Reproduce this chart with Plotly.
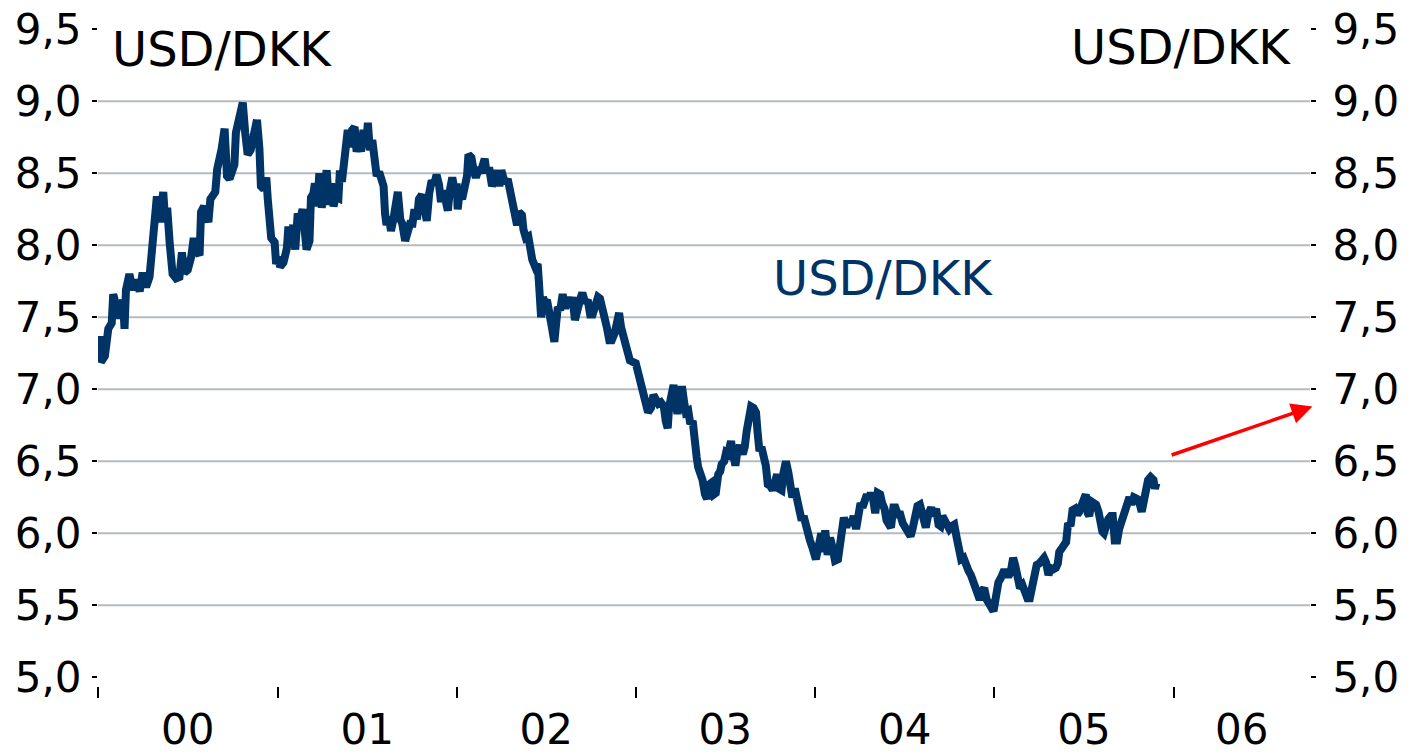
import pandas as pd
import plotly.graph_objects as go

# USD/DKK kurs (ca. ugentlige punkter)
DATES = [
    # 2000
    "2000-01-05", "2000-01-07", "2000-01-15", "2000-01-19", "2000-01-22", "2000-01-29",
    "2000-02-01", "2000-02-04", "2000-02-07", "2000-02-12", "2000-02-16", "2000-02-21",
    "2000-02-24", "2000-02-27", "2000-03-05", "2000-03-09", "2000-03-12", "2000-03-19",
    "2000-03-26", "2000-04-01", "2000-04-08", "2000-04-15", "2000-04-18", "2000-04-22",
    "2000-04-25", "2000-04-30", "2000-05-05", "2000-05-09", "2000-05-13", "2000-05-17",
    "2000-05-21", "2000-05-26", "2000-06-01", "2000-06-08", "2000-06-15", "2000-06-20",
    "2000-06-25", "2000-07-02", "2000-07-09", "2000-07-14", "2000-07-19", "2000-07-26",
    "2000-07-29", "2000-08-04", "2000-08-08", "2000-08-13", "2000-08-17", "2000-08-22",
    "2000-08-27", "2000-08-31", "2000-09-05", "2000-09-09", "2000-09-15", "2000-09-20",
    "2000-09-25", "2000-09-30", "2000-10-05", "2000-10-08", "2000-10-12", "2000-10-17",
    "2000-10-22", "2000-10-27", "2000-11-01", "2000-11-07", "2000-11-11", "2000-11-16",
    "2000-11-20", "2000-11-25", "2000-11-28", "2000-12-04", "2000-12-09", "2000-12-12",
    "2000-12-15", "2000-12-19", "2000-12-26", "2000-12-29",
    # 2001
    "2001-01-03", "2001-01-06", "2001-01-13", "2001-01-20", "2001-01-23", "2001-01-26",
    "2001-02-02", "2001-02-06", "2001-02-11", "2001-02-16", "2001-02-21", "2001-02-26",
    "2001-03-01", "2001-03-07", "2001-03-10", "2001-03-15", "2001-03-18", "2001-03-23",
    "2001-03-27", "2001-04-01", "2001-04-06", "2001-04-11", "2001-04-16", "2001-04-20",
    "2001-04-25", "2001-04-30", "2001-05-05", "2001-05-08", "2001-05-12", "2001-05-16",
    "2001-05-21", "2001-05-24", "2001-05-29", "2001-06-02", "2001-06-07", "2001-06-11",
    "2001-06-16", "2001-06-20", "2001-06-25", "2001-06-30", "2001-07-04", "2001-07-08",
    "2001-07-13", "2001-07-17", "2001-07-22", "2001-07-27", "2001-07-31", "2001-08-05",
    "2001-08-08", "2001-08-11", "2001-08-16", "2001-08-20", "2001-08-25", "2001-08-30",
    "2001-09-03", "2001-09-08", "2001-09-12", "2001-09-18", "2001-09-23", "2001-09-28",
    "2001-10-03", "2001-10-07", "2001-10-12", "2001-10-16", "2001-10-22", "2001-10-26",
    "2001-11-01", "2001-11-06", "2001-11-11", "2001-11-16", "2001-11-21", "2001-11-26",
    "2001-11-30", "2001-12-05", "2001-12-10", "2001-12-14", "2001-12-18", "2001-12-23",
    "2001-12-29",
    # 2002
    "2002-01-01", "2002-01-03", "2002-01-07", "2002-01-12", "2002-01-17", "2002-01-22",
    "2002-01-25", "2002-01-31", "2002-02-04", "2002-02-09", "2002-02-14", "2002-02-20",
    "2002-02-27", "2002-03-03", "2002-03-08", "2002-03-14", "2002-03-19", "2002-03-24",
    "2002-03-29", "2002-04-02", "2002-04-06", "2002-04-11", "2002-04-15", "2002-04-19",
    "2002-04-23", "2002-04-29", "2002-05-04", "2002-05-08", "2002-05-14", "2002-05-17",
    "2002-05-22", "2002-05-27", "2002-05-31", "2002-06-04", "2002-06-10", "2002-06-15",
    "2002-06-18", "2002-06-22", "2002-06-26", "2002-06-29", "2002-07-04", "2002-07-08",
    "2002-07-14", "2002-07-19", "2002-07-22", "2002-07-26", "2002-07-31", "2002-08-05",
    "2002-08-10", "2002-08-15", "2002-08-20", "2002-08-25", "2002-08-30", "2002-09-05",
    "2002-09-10", "2002-09-14", "2002-09-20", "2002-09-25", "2002-09-30", "2002-10-05",
    "2002-10-10", "2002-10-16", "2002-10-20", "2002-10-25", "2002-10-29", "2002-11-03",
    "2002-11-08", "2002-11-13", "2002-11-19", "2002-11-23", "2002-11-28", "2002-12-02",
    "2002-12-07", "2002-12-12", "2002-12-16", "2002-12-20",
    # 2003
    "2003-01-01", "2003-01-05", "2003-01-08", "2003-01-13", "2003-01-17", "2003-01-22",
    "2003-01-26", "2003-02-01", "2003-02-06", "2003-02-11", "2003-02-16", "2003-02-21",
    "2003-02-27", "2003-03-03", "2003-03-07", "2003-03-10", "2003-03-15", "2003-03-19",
    "2003-03-24", "2003-03-27", "2003-04-01", "2003-04-05", "2003-04-10", "2003-04-13",
    "2003-04-18", "2003-04-22", "2003-04-27", "2003-04-30", "2003-05-05", "2003-05-08",
    "2003-05-12", "2003-05-17", "2003-05-22", "2003-05-26", "2003-05-31", "2003-06-04",
    "2003-06-09", "2003-06-13", "2003-06-18", "2003-06-22", "2003-06-25", "2003-06-30",
    "2003-07-04", "2003-07-08", "2003-07-14", "2003-07-19", "2003-07-23", "2003-07-27",
    "2003-08-01", "2003-08-07", "2003-08-11", "2003-08-15", "2003-08-20", "2003-08-24",
    "2003-08-29", "2003-09-03", "2003-09-06", "2003-09-10", "2003-09-14", "2003-09-18",
    "2003-09-23", "2003-09-27", "2003-10-02", "2003-10-07", "2003-10-12", "2003-10-16",
    "2003-10-20", "2003-10-25", "2003-10-29", "2003-11-03", "2003-11-08", "2003-11-12",
    "2003-11-16", "2003-11-21", "2003-11-25", "2003-11-30", "2003-12-05", "2003-12-09",
    "2003-12-14", "2003-12-18", "2003-12-22", "2003-12-27", "2003-12-31",
    # 2004
    "2004-01-03", "2004-01-08", "2004-01-14", "2004-01-18", "2004-01-22", "2004-01-27",
    "2004-02-01", "2004-02-06", "2004-02-11", "2004-02-17", "2004-02-20", "2004-02-25",
    "2004-02-29", "2004-03-05", "2004-03-09", "2004-03-15", "2004-03-20", "2004-03-25",
    "2004-03-30", "2004-04-03", "2004-04-07", "2004-04-11", "2004-04-16", "2004-04-20",
    "2004-04-24", "2004-04-29", "2004-05-03", "2004-05-08", "2004-05-13", "2004-05-17",
    "2004-05-22", "2004-05-26", "2004-05-30", "2004-06-04", "2004-06-09", "2004-06-13",
    "2004-06-18", "2004-06-23", "2004-06-28", "2004-07-03", "2004-07-08", "2004-07-14",
    "2004-07-18", "2004-07-24", "2004-07-28", "2004-08-02", "2004-08-06", "2004-08-10",
    "2004-08-14", "2004-08-19", "2004-08-25", "2004-08-29", "2004-09-04", "2004-09-09",
    "2004-09-13", "2004-09-17", "2004-09-22", "2004-09-26", "2004-10-01", "2004-10-06",
    "2004-10-11", "2004-10-16", "2004-10-20", "2004-10-25", "2004-10-30", "2004-11-04",
    "2004-11-09", "2004-11-14", "2004-11-19", "2004-11-23", "2004-11-28", "2004-12-02",
    "2004-12-07", "2004-12-11", "2004-12-16", "2004-12-21", "2004-12-26", "2004-12-30",
    # 2005
    "2005-01-02", "2005-01-04", "2005-01-09", "2005-01-14", "2005-01-19", "2005-01-24",
    "2005-01-29", "2005-02-03", "2005-02-08", "2005-02-12", "2005-02-17", "2005-02-22",
    "2005-02-27", "2005-03-04", "2005-03-09", "2005-03-14", "2005-03-19", "2005-03-23",
    "2005-03-28", "2005-04-02", "2005-04-07", "2005-04-12", "2005-04-16", "2005-04-21",
    "2005-04-25", "2005-05-01", "2005-05-06", "2005-05-10", "2005-05-13", "2005-05-18",
    "2005-05-23", "2005-05-27", "2005-05-31", "2005-06-05", "2005-06-09", "2005-06-14",
    "2005-06-19", "2005-06-23", "2005-06-28", "2005-07-02", "2005-07-06", "2005-07-10",
    "2005-07-13", "2005-07-18", "2005-07-23", "2005-07-27", "2005-08-01", "2005-08-04",
    "2005-08-09", "2005-08-12", "2005-08-16", "2005-08-21", "2005-08-26", "2005-08-30",
    "2005-09-03", "2005-09-08", "2005-09-12", "2005-09-17", "2005-09-22", "2005-09-27",
    "2005-10-03", "2005-10-07", "2005-10-12", "2005-10-18", "2005-10-22", "2005-10-28",
    "2005-11-02", "2005-11-06", "2005-11-10", "2005-11-15", "2005-11-21", "2005-11-24",
    "2005-11-27",
]

USD_DKK = [
    # 2000
    7.37, 7.19, 7.23, 7.37, 7.42, 7.46,
    7.66, 7.62, 7.49, 7.61, 7.55, 7.62,
    7.42, 7.69, 7.80, 7.74, 7.69, 7.76,
    7.68, 7.81, 7.71, 7.78, 7.90, 7.96,
    8.16, 8.34, 8.16, 8.30, 8.37, 8.16,
    8.26, 8.02, 7.80, 7.77, 7.78, 7.95,
    7.81, 7.83, 7.92, 8.05, 7.97, 7.93,
    8.23, 8.27, 8.20, 8.16, 8.32, 8.34,
    8.37, 8.53, 8.66, 8.67, 8.81, 8.48,
    8.46, 8.53, 8.56, 8.78, 8.85, 8.91,
    8.99, 8.78, 8.63, 8.66, 8.74, 8.81,
    8.87, 8.67, 8.41, 8.39, 8.47, 8.32,
    8.11, 8.05, 8.02, 7.87,
    # 2001
    7.92, 7.85, 7.88, 7.98, 8.13, 8.02,
    8.14, 7.97, 8.22, 8.18, 8.25, 8.11,
    7.97, 8.03, 8.33, 8.36, 8.43, 8.27,
    8.50, 8.26, 8.41, 8.52, 8.28, 8.43,
    8.27, 8.34, 8.33, 8.52, 8.44, 8.53,
    8.71, 8.80, 8.68, 8.80, 8.82, 8.65,
    8.71, 8.65, 8.80, 8.68, 8.85, 8.66,
    8.73, 8.56, 8.48, 8.51, 8.44, 8.41,
    8.22, 8.14, 8.20, 8.10, 8.18, 8.27,
    8.37, 8.18, 8.15, 8.03, 8.09, 8.15,
    8.15, 8.25, 8.18, 8.32, 8.35, 8.27,
    8.17, 8.36, 8.45, 8.42, 8.49, 8.42,
    8.30, 8.38, 8.26, 8.24, 8.38, 8.47,
    8.36,
    # 2002
    8.43, 8.25, 8.37, 8.32, 8.41, 8.48,
    8.63, 8.61, 8.53, 8.47, 8.52, 8.52,
    8.60, 8.50, 8.54, 8.41, 8.46, 8.52,
    8.41, 8.52, 8.47, 8.43, 8.46, 8.38,
    8.34, 8.25, 8.14, 8.23, 8.21, 8.11,
    8.05, 8.06, 7.93, 7.90, 7.85, 7.87,
    7.72, 7.50, 7.64, 7.60, 7.62, 7.50,
    7.43, 7.33, 7.47, 7.57, 7.55, 7.66,
    7.56, 7.64, 7.57, 7.64, 7.48, 7.59,
    7.63, 7.67, 7.60, 7.62, 7.52, 7.52,
    7.60, 7.64, 7.63, 7.57, 7.48, 7.43,
    7.34, 7.34, 7.39, 7.49, 7.53, 7.43,
    7.37, 7.32, 7.25, 7.20,
    # 2003
    7.18, 7.13, 7.06, 7.04, 6.97, 6.91,
    6.84, 6.87, 6.96, 6.93, 6.90, 6.91,
    6.88, 6.78, 6.73, 6.88, 7.00, 7.03,
    6.88, 6.83, 6.93, 7.02, 6.90, 6.84,
    6.85, 6.76, 6.78, 6.64, 6.53, 6.46,
    6.42, 6.37, 6.27, 6.24, 6.34, 6.35,
    6.27, 6.28, 6.41, 6.43, 6.48, 6.50,
    6.56, 6.55, 6.64, 6.57, 6.47, 6.57,
    6.61, 6.55, 6.60, 6.71, 6.85, 6.88,
    6.87, 6.84, 6.71, 6.57, 6.60, 6.54,
    6.47, 6.34, 6.33, 6.30, 6.37, 6.41,
    6.31, 6.30, 6.42, 6.50, 6.42, 6.25,
    6.25, 6.31, 6.25, 6.18, 6.09, 6.12,
    6.04, 5.98, 5.95, 5.90, 5.84,
    # 2004
    5.82, 5.90, 6.00, 5.87, 6.02, 5.85,
    5.97, 5.90, 5.81, 5.82, 5.90, 5.97,
    6.11, 6.04, 6.09, 6.06, 6.12, 6.03,
    6.19, 6.21, 6.18, 6.23, 6.27, 6.24,
    6.28, 6.23, 6.14, 6.28, 6.27, 6.21,
    6.17, 6.09, 6.06, 6.04, 6.18, 6.18,
    6.13, 6.13, 6.07, 6.04, 6.00, 5.98,
    6.03, 6.13, 6.19, 6.20, 6.13, 6.04,
    6.04, 6.13, 6.18, 6.12, 6.17, 6.06,
    6.05, 6.12, 6.09, 6.04, 6.03, 6.05,
    6.06, 5.97, 5.85, 5.82, 5.83, 5.77,
    5.74, 5.71, 5.67, 5.64, 5.59, 5.54,
    5.60, 5.62, 5.54, 5.50, 5.48, 5.46,
    # 2005
    5.52, 5.57, 5.66, 5.69, 5.73, 5.73,
    5.70, 5.73, 5.83, 5.78, 5.65, 5.62,
    5.64, 5.59, 5.55, 5.55, 5.64, 5.76,
    5.78, 5.79, 5.81, 5.83, 5.80, 5.71,
    5.76, 5.75, 5.76, 5.79, 5.87, 5.90,
    5.91, 5.94, 6.07, 6.05, 6.16, 6.17,
    6.13, 6.15, 6.20, 6.24, 6.27, 6.14,
    6.12, 6.22, 6.21, 6.20, 6.15, 6.06,
    6.01, 6.00, 6.07, 6.10, 6.12, 6.12,
    5.95, 5.95, 6.03, 6.08, 6.17, 6.22,
    6.25, 6.20, 6.25, 6.24, 6.23, 6.15,
    6.23, 6.35, 6.37, 6.39, 6.37, 6.31,
    6.35,
]

YEARS = [2000, 2001, 2002, 2003, 2004, 2005, 2006]
YEAR_LABELS = ["00", "01", "02", "03", "04", "05", "06"]
Y_TICKS = [5.0, 5.5, 6.0, 6.5, 7.0, 7.5, 8.0, 8.5, 9.0, 9.5]
GRID = [5.5, 6.0, 6.5, 7.0, 7.5, 8.0, 8.5, 9.0]
X_RANGE = ["2000-01-01", "2006-10-06"]
Y_RANGE = [4.94, 9.55]

# pil for forventet udvikling
ARROW_FROM = ("2005-12-25", 6.54)
ARROW_TO = ("2006-10-11", 6.88)

NAVY = "#003466"
FONT = "DejaVu Sans"

# årsetiketter midt i den synlige del af hvert år
r0, r1 = pd.Timestamp(X_RANGE[0]), pd.Timestamp(X_RANGE[1])
year_starts = [pd.Timestamp(f"{y}-01-01") for y in YEARS]
label_pos = []
for y in YEARS:
    a = max(pd.Timestamp(f"{y}-01-01"), r0)
    b = min(pd.Timestamp(f"{y + 1}-01-01"), r1)
    label_pos.append(a + (b - a) / 2)

fig = go.Figure()

fig.add_trace(go.Scatter(
    x=DATES, y=USD_DKK, mode="lines",
    line=dict(color=NAVY, width=8),
    name="USD/DKK", hoverinfo="x+y",
))

# usynlig trace så højre akse tegnes
fig.add_trace(go.Scatter(
    x=DATES[:1], y=USD_DKK[:1], yaxis="y2", mode="markers",
    marker=dict(opacity=0), hoverinfo="skip", showlegend=False,
))

# vandrette gitterlinjer (kun de indre niveauer)
for g in GRID:
    fig.add_shape(type="line", xref="paper", x0=0, x1=1, yref="y", y0=g, y1=g,
                  line=dict(color="#b7bbbe", width=2), layer="below")

ytick_common = dict(
    range=Y_RANGE, tickvals=Y_TICKS, tickformat=".1f", automargin=False,
    showgrid=False, zeroline=False, showline=False,
    ticks="outside", ticklen=5, tickwidth=2, tickcolor="black",
    ticklabeloverflow="allow",
    tickfont=dict(family=FONT, size=42, color="black"),
)

fig.update_layout(
    width=1410, height=755,
    margin=dict(l=98, r=100, t=22, b=69),
    paper_bgcolor="white", plot_bgcolor="white",
    showlegend=False,
    separators=",.",
    xaxis=dict(
        type="date", range=X_RANGE, automargin=False,
        tickmode="array", tickvals=label_pos, ticktext=YEAR_LABELS,
        ticks="", ticklabelstandoff=15, ticklabeloverflow="allow",
        minor=dict(tickmode="array", tickvals=year_starts, ticks="outside",
                   ticklen=11, tickwidth=2, tickcolor="black", showgrid=False),
        showgrid=False, zeroline=False, showline=False,
        tickfont=dict(family=FONT, size=42, color="black"),
    ),
    yaxis=dict(**ytick_common, side="left", ticklabelstandoff=2),
    yaxis2=dict(**ytick_common, side="right", overlaying="y", ticklabelstandoff=8),
)

fig.add_annotation(text="USD/DKK", xref="paper", yref="paper", x=0.0099, y=0.959,
                   xanchor="left", yanchor="middle", showarrow=False,
                   font=dict(family=FONT, size=48, color="black"))
fig.add_annotation(text="USD/DKK", xref="paper", yref="paper", x=0.986, y=0.962,
                   xanchor="right", yanchor="middle", showarrow=False,
                   font=dict(family=FONT, size=48, color="black"))
fig.add_annotation(text="USD/DKK", xref="paper", yref="paper", x=0.648, y=0.614,
                   xanchor="center", yanchor="middle", showarrow=False,
                   font=dict(family=FONT, size=48, color=NAVY))

fig.add_annotation(
    x=ARROW_TO[0], y=ARROW_TO[1], ax=ARROW_FROM[0], ay=ARROW_FROM[1],
    xref="x", yref="y", axref="x", ayref="y",
    text="", showarrow=True, arrowhead=2, arrowsize=1.2, arrowwidth=3.5,
    arrowcolor="#ff0000", standoff=0, startstandoff=0,
)

# fjern browserens standardmargin, så figuren fylder hele vinduet
fig.write_html("out.html", config={"displayModeBar": False},
               post_script="document.body.style.margin='0';")
